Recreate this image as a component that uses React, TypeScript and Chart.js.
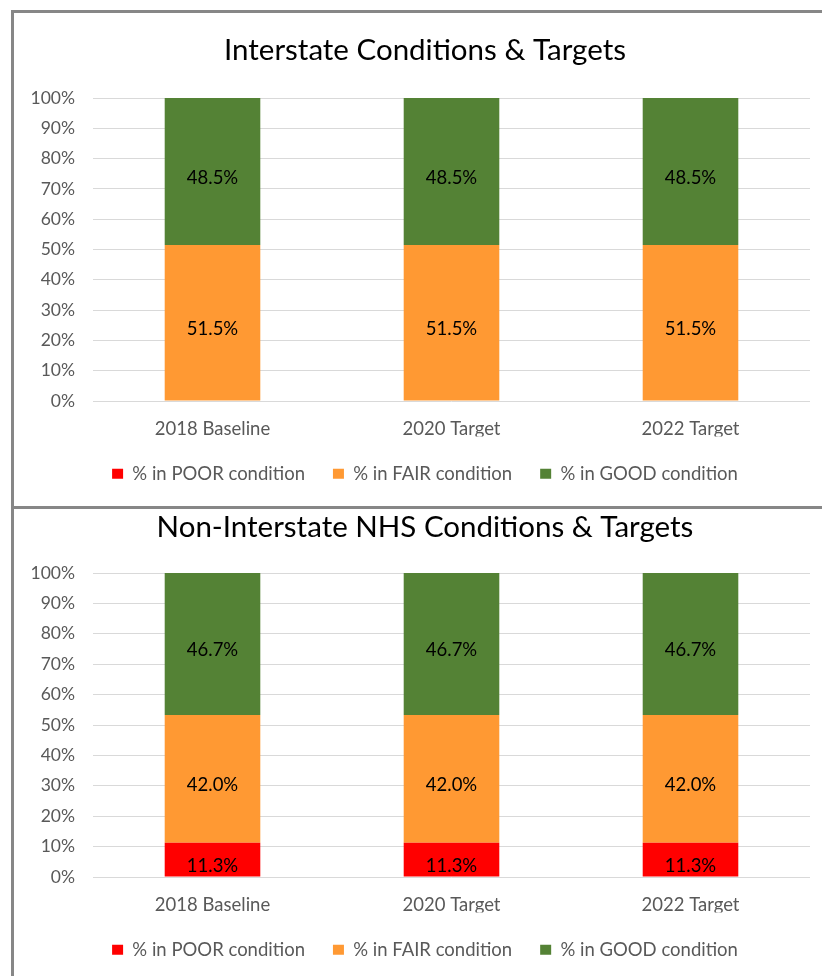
import React, { useEffect, useRef } from 'react';
import { Chart, registerables } from 'chart.js';

Chart.register(...registerables);

const categories = ['2018 Baseline', '2020 Target', '2022 Target'];
const seriesNames = ['% in POOR condition', '% in FAIR condition', '% in GOOD condition'];
const seriesColors = ['#FF0000', '#FF9933', '#548235'];

const interstatePoor = [0, 0, 0];
const interstateFair = [51.5, 51.5, 51.5];
const interstateGood = [48.5, 48.5, 48.5];

const nonInterstatePoor = [11.3, 11.3, 11.3];
const nonInterstateFair = [42.0, 42.0, 42.0];
const nonInterstateGood = [46.7, 46.7, 46.7];

const yMin = 0;
const yMax = 100;
const yStep = 10;

const FONT = 'Lato, "Open Sans", sans-serif';

const valueLabels = {
  id: 'valueLabels',
  afterDatasetsDraw(chart: any) {
    const ctx = chart.ctx;
    ctx.save();
    ctx.font = `18.5px ${FONT}`;
    ctx.fillStyle = '#000000';
    ctx.textAlign = 'center';
    ctx.textBaseline = 'middle';
    chart.data.datasets.forEach((ds: any, i: number) => {
      const meta = chart.getDatasetMeta(i);
      meta.data.forEach((bar: any, j: number) => {
        const v = ds.data[j];
        if (!v) return;
        const p = bar.getProps(['x', 'y', 'base'], true);
        ctx.fillText(v.toFixed(1) + '%', p.x, (p.y + p.base) / 2 + 6.5);
      });
    });
    ctx.restore();
  },
};

type PanelProps = {
  title: string;
  poor: number[];
  fair: number[];
  good: number[];
  top: number;
  height: number;
  titlePadTop: number;
  titlePadBottom: number;
  padBottom: number;
  xHeight: number;
};

function ChartPanel(props: PanelProps) {
  const ref = useRef<HTMLCanvasElement | null>(null);
  useEffect(() => {
    if (!ref.current) return;
    const chart = new Chart(ref.current, {
      type: 'bar',
      data: {
        labels: categories,
        datasets: [
          { label: seriesNames[0], data: props.poor, backgroundColor: seriesColors[0], borderWidth: 0 },
          { label: seriesNames[1], data: props.fair, backgroundColor: seriesColors[1], borderWidth: 0 },
          { label: seriesNames[2], data: props.good, backgroundColor: seriesColors[2], borderWidth: 0 },
        ],
      },
      options: {
        responsive: false,
        animation: false,
        events: [],
        datasets: { bar: { barPercentage: 0.4, categoryPercentage: 1 } },
        layout: { padding: { left: 0, right: 0, top: 0, bottom: props.padBottom } },
        scales: {
          x: {
            stacked: true,
            grid: { display: false, drawTicks: false },
            border: { display: false },
            ticks: { color: '#595959', font: { family: FONT, size: 18.5 }, padding: 17 },
            afterFit: (s: any) => { s.height = props.xHeight; },
          },
          y: {
            stacked: true,
            min: yMin,
            max: yMax,
            grid: { color: '#D9D9D9', lineWidth: 1, drawTicks: false },
            border: { display: false },
            ticks: {
              stepSize: yStep,
              color: '#595959',
              font: { family: FONT, size: 17.5 },
              padding: 18,
              callback: (v: any) => v + '%',
            },
            afterFit: (s: any) => { s.width = 79; },
          },
          yRightSpace: {
            position: 'right',
            display: true,
            grid: { display: false, drawTicks: false },
            border: { display: false },
            ticks: { display: false },
            afterFit: (s: any) => { s.width = 26; },
          },
        },
        plugins: {
          title: {
            display: true,
            text: props.title,
            color: '#000000',
            font: { family: FONT, size: 29.5, weight: 'normal' },
            padding: { top: props.titlePadTop, bottom: props.titlePadBottom },
          },
          legend: {
            position: 'bottom',
            labels: {
              boxWidth: 11,
              boxHeight: 10,
              padding: 28,
              color: '#595959',
              font: { family: FONT, size: 18.5 },
            },
          },
          tooltip: { enabled: false },
        },
      },
      plugins: [valueLabels],
    } as any);
    return () => chart.destroy();
  }, []);
  return (
    <canvas
      ref={ref}
      width={822}
      height={props.height}
      style={{ position: 'absolute', left: 14, top: props.top, display: 'block' }}
    />
  );
}

export default function App() {
  return (
    <div style={{ position: 'fixed', left: 0, top: 0, width: 822, height: 976, overflow: 'hidden', background: '#fff' }}>
      <div style={{ position: 'absolute', left: 11, top: 10, width: 900, height: 499, borderTop: '3px solid #878787', borderLeft: '3px solid #878787', boxSizing: 'border-box' }} />
      <div style={{ position: 'absolute', left: 11, top: 506, width: 900, height: 500, borderTop: '3px solid #878787', borderLeft: '3px solid #878787', boxSizing: 'border-box' }} />
      <ChartPanel
        title="Interstate Conditions & Targets"
        poor={interstatePoor}
        fair={interstateFair}
        good={interstateGood}
        top={13}
        height={493}
        titlePadTop={19.3}
        titlePadBottom={30.3}
        padBottom={13}
        xHeight={35.5}
      />
      <ChartPanel
        title="Non-Interstate NHS Conditions & Targets"
        poor={nonInterstatePoor}
        fair={nonInterstateFair}
        good={nonInterstateGood}
        top={509}
        height={467}
        titlePadTop={0.3}
        titlePadBottom={28.3}
        padBottom={7}
        xHeight={35.5}
      />
    </div>
  );
}
